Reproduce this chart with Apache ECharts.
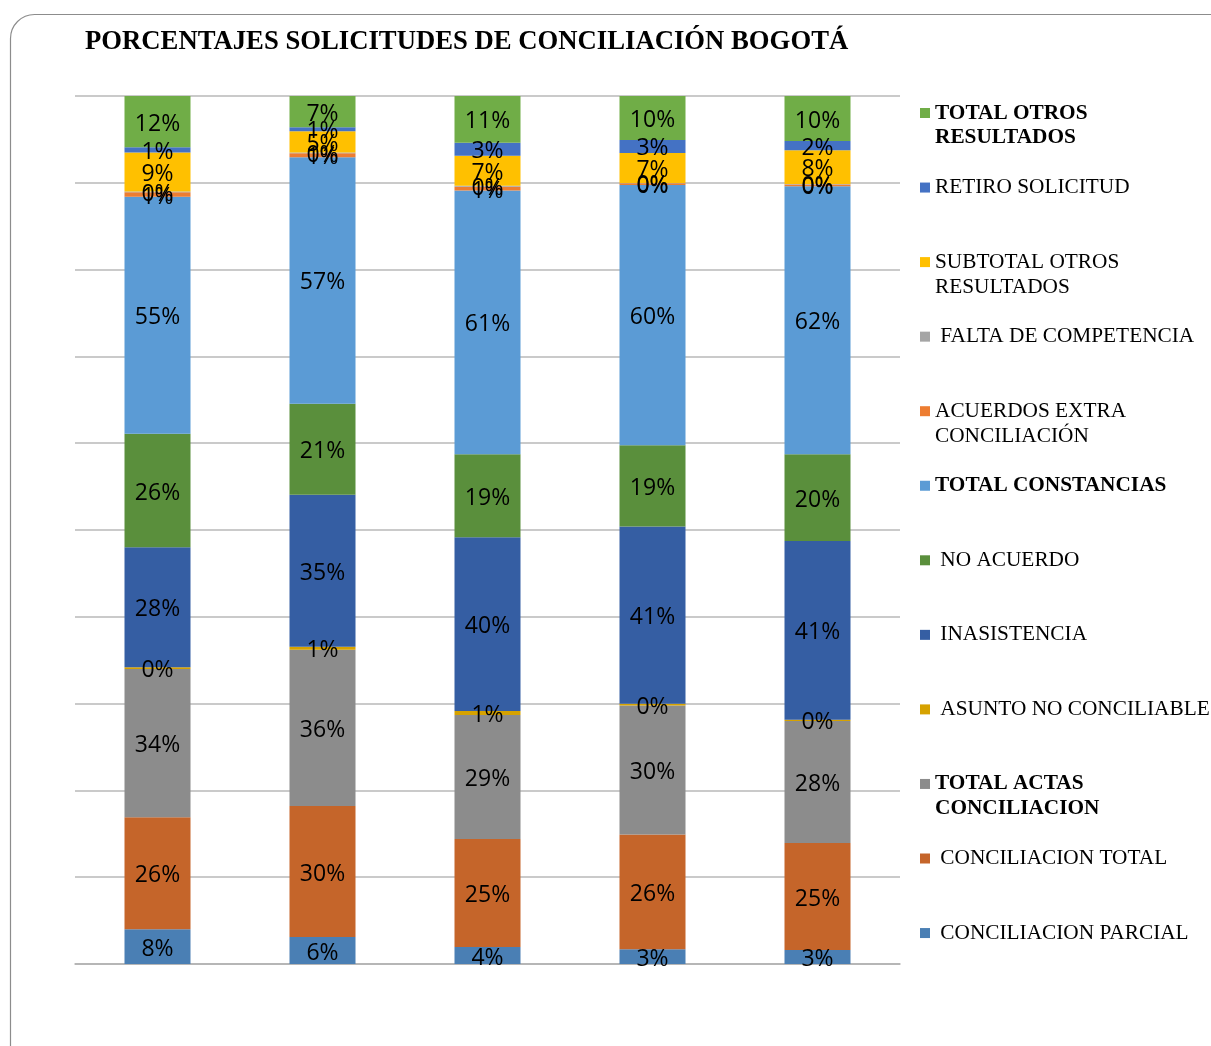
<!DOCTYPE html>
<html>
<head>
<meta charset="utf-8">
<script src="https://cdn.jsdelivr.net/npm/echarts@6/dist/echarts.min.js"></script>
<style>
  html, body { margin: 0; padding: 0; background: #fff; }
  #chart_solicitudes { width: 1211px; height: 1046px; }
</style>
</head>
<body>
<div id="chart_solicitudes"></div>
<script>
// categorias (sin etiqueta visible en el eje)
const categories = ["1", "2", "3", "4", "5"];

// porcentajes por serie, de abajo hacia arriba en la pila
const parcial = [8.0, 6.2, 3.9, 3.4, 3.2];
const concTotal = [25.8, 30.2, 24.9, 26.4, 24.7];
const totalActas = [34.2, 36.0, 28.6, 29.7, 28.1];
const asuntoNoConciliable = [0.4, 0.7, 0.9, 0.4, 0.3];
const inasistencia = [27.6, 35.0, 40.1, 40.8, 41.2];
const noAcuerdo = [26.2, 21.0, 19.1, 18.7, 20.0];
const totalConstancias = [54.6, 56.8, 60.8, 59.9, 61.8];
const acuerdosExtra = [1.0, 0.9, 0.9, 0.4, 0.4];
const faltaCompetencia = [0.2, 0.2, 0.2, 0.1, 0.1];
const subtotalOtros = [9.0, 4.9, 6.9, 6.9, 7.8];
const retiroSolicitud = [1.2, 0.9, 3.0, 3.0, 2.1];
const totalOtros = [11.8, 7.2, 10.8, 10.1, 10.4];

const yTicks = [0, 10, 20, 30, 40, 50, 60, 70, 80, 90, 100];

const seriesDefs = [
  { name: "CONCILIACION PARCIAL", data: parcial, color: "#4a7fb4", legend: " CONCILIACION PARCIAL" },
  { name: "CONCILIACION TOTAL", data: concTotal, color: "#c5652a", legend: " CONCILIACION TOTAL" },
  { name: "TOTAL ACTAS CONCILIACION", data: totalActas, color: "#8c8c8c", legend: "TOTAL ACTAS\nCONCILIACION", bold: true },
  { name: "ASUNTO NO CONCILIABLE", data: asuntoNoConciliable, color: "#d6a200", legend: " ASUNTO NO CONCILIABLE" },
  { name: "INASISTENCIA", data: inasistencia, color: "#355ea3", legend: " INASISTENCIA" },
  { name: "NO ACUERDO", data: noAcuerdo, color: "#5a8f3c", legend: " NO ACUERDO" },
  { name: "TOTAL CONSTANCIAS", data: totalConstancias, color: "#5b9bd5", legend: "TOTAL CONSTANCIAS", bold: true },
  { name: "ACUERDOS EXTRA CONCILIACIÓN", data: acuerdosExtra, color: "#ed7d31", legend: "ACUERDOS EXTRA\nCONCILIACIÓN" },
  { name: "FALTA DE COMPETENCIA", data: faltaCompetencia, color: "#a5a5a5", legend: " FALTA DE COMPETENCIA" },
  { name: "SUBTOTAL OTROS RESULTADOS", data: subtotalOtros, color: "#ffc000", legend: "SUBTOTAL OTROS\nRESULTADOS" },
  { name: "RETIRO SOLICITUD", data: retiroSolicitud, color: "#4472c4", legend: "RETIRO SOLICITUD" },
  { name: "TOTAL OTROS RESULTADOS", data: totalOtros, color: "#70ad47", legend: "TOTAL OTROS\nRESULTADOS", bold: true },
];

// columnas apiladas al 100%: cada segmento es su parte del total de la columna
const colSums = categories.map((c, i) => seriesDefs.reduce((s, d) => s + d.data[i], 0));

const myChart = echarts.init(document.getElementById("chart_solicitudes"));

// cada entrada de leyenda ocupa 3 lineas; la primera linea real queda junto al icono
const LINE_H = 24.85;
const legendLabel = {};
seriesDefs.forEach((d) => {
  legendLabel[d.name] = d.legend.indexOf("\n") >= 0 ? "\n" + d.legend : "\n" + d.legend + "\n";
});

const option = {
  animation: false,
  title: {
    text: "PORCENTAJES SOLICITUDES DE CONCILIACIÓN BOGOTÁ",
    left: 85,
    top: 29,
    padding: 0,
    textStyle: {
      fontFamily: "Liberation Serif",
      fontWeight: "bold",
      fontSize: 26.7,
      lineHeight: 26,
      color: "#000",
    },
  },
  legend: {
    orient: "vertical",
    left: 920,
    top: 113 - LINE_H * 1.5,
    padding: 0,
    itemGap: 0,
    itemWidth: 10,
    itemHeight: 10,
    icon: "rect",
    selectedMode: false,
    formatter: (name) => legendLabel[name],
    textStyle: {
      fontFamily: "Liberation Serif",
      fontSize: 21.3,
      lineHeight: LINE_H,
      color: "#000",
    },
    data: seriesDefs.slice().reverse().map((d) => ({
      name: d.name,
      textStyle: { fontWeight: d.bold ? "bold" : "normal" },
    })),
  },
  grid: {
    left: 75,
    right: 311,
    top: 96,
    bottom: 82,
  },
  xAxis: {
    type: "category",
    data: categories,
    axisLine: { lineStyle: { color: "#b0b0b0", width: 1.5 } },
    axisTick: { show: false },
    axisLabel: { show: false },
  },
  yAxis: {
    type: "value",
    min: yTicks[0],
    max: yTicks[yTicks.length - 1],
    interval: yTicks[1] - yTicks[0],
    axisLine: { show: false },
    axisTick: { show: false },
    axisLabel: { show: false },
    splitLine: { lineStyle: { color: "#b8b8b8", width: 1.5 } },
  },
  graphic: [
    {
      type: "rect",
      shape: { x: 10.5, y: 14.5, width: 1240, height: 1080, r: 24 },
      style: { fill: "none", stroke: "#8c8c8c", lineWidth: 1.2 },
      silent: true,
    },
  ],
  series: seriesDefs.map((d) => ({
    name: d.name,
    type: "bar",
    stack: "total",
    barWidth: 66,
    itemStyle: { color: d.color },
    label: {
      show: true,
      position: "inside",
      offset: [0, 2.5],
      fontFamily: "Open Sans",
      fontSize: 23,
      color: "#000",
      formatter: (p) => Math.round(d.data[p.dataIndex]) + "%",
    },
    data: d.data.map((v, i) => (v / colSums[i]) * 100),
  })),
};

myChart.setOption(option);
</script>
</body>
</html>
